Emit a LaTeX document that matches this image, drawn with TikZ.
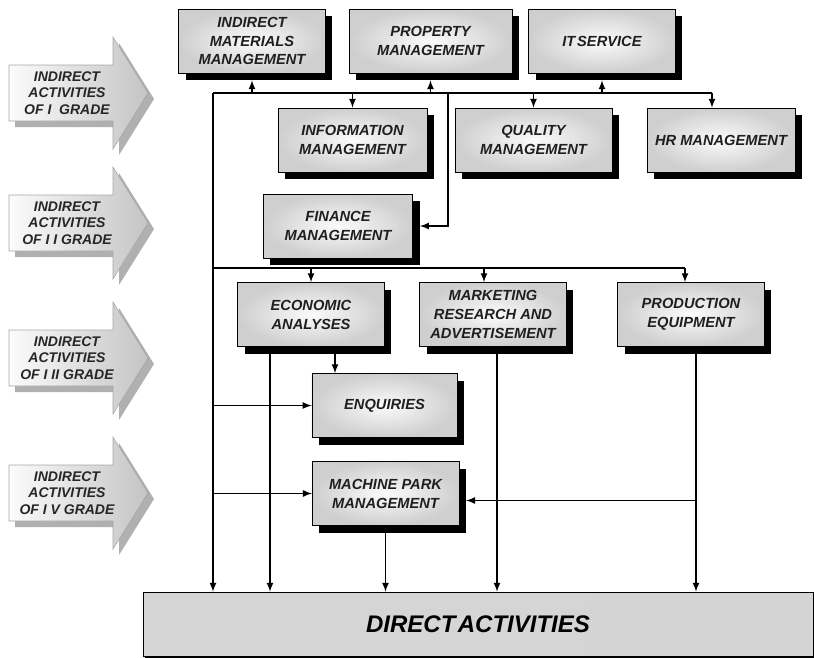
\documentclass[tikz,border=0pt]{standalone}
\usepackage{fontspec}
\setmainfont{Liberation Sans}
\usetikzlibrary{arrows,shadows,calc}
\tikzset{every picture/.style={/utils/exec={\bfseries\itshape}}}
\tikzset{box/.style={draw, thin, shading=radial, inner color=gray!3, outer color=gray!38,
    general shadow={fill=black, shadow xshift=5.25pt, shadow yshift=-5.25pt},
    minimum width=110pt, minimum height=48pt, align=center, inner sep=1pt,
    text=black!88, font=\fontsize{11}{14.2}\selectfont}}
\tikzset{link/.style={-latex, line width=1.3pt}}
\tikzset{bus/.style={line width=1.3pt}}
\tikzset{grade/.style={draw=gray!70, thin, shading=axis, left color=gray!3, right color=gray!46}}
\tikzset{gradetext/.style={align=center, font=\fontsize{10.5}{12.5}\selectfont, text=black!85}}

\begin{document}
\begin{tikzpicture}[x=0.75pt, y=-0.75pt]
    \useasboundingbox (0,0) rectangle (814,657);
    % grades
    \foreach \c/\g in {93/{OF I~~GRADE}, 223/{OF I I GRADE}, 358/{OF I II GRADE}, 493/{OF I V GRADE}} {
        \fill [gray!62] (15,\c-22) -- (119,\c-22) -- (119,\c-50) -- (154,\c+6) -- (119,\c+62) -- (119,\c+34) -- (15,\c+34) -- cycle;
        \draw [grade] (9,\c-28) -- (113,\c-28) -- (113,\c-56) -- (148,\c) -- (113,\c+56) -- (113,\c+28) -- (9,\c+28) -- cycle;
        \node [gradetext] at (67,\c) {INDIRECT\\ACTIVITIES\\\g};
    }
    % boxes
    \node [box] (imm) at (252,41) {INDIRECT\\MATERIALS\\MANAGEMENT};
    \node [box, minimum width=122pt] (prop) at (430.5,41) {PROPERTY\\MANAGEMENT};
    \node [box] (it) at (602,41) {IT\hspace{0.12em}SERVICE};
    \node [box, minimum width=112pt] (info) at (352.5,140) {INFORMATION\\MANAGEMENT};
    \node [box, minimum width=118pt] (qual) at (533.5,140) {QUALITY\\MANAGEMENT};
    \node [box, minimum width=111pt] (hr) at (721,140) {HR MANAGEMENT};
    \node [box, minimum width=112pt] (fin) at (338,226) {FINANCE\\MANAGEMENT};
    \node [box] (econ) at (311,314.5) {ECONOMIC\\ANALYSES};
    \node [box] (mkt) at (493,314.5) {MARKETING\\RESEARCH AND\\ADVERTISEMENT};
    \node [box] (prod) at (691,314.5) {PRODUCTION\\EQUIPMENT};
    \node [box, minimum width=109pt] (enq) at (384.5,405.5) {ENQUIRIES};
    \node [box] (mach) at (385.5,493.5) {MACHINE PARK\\MANAGEMENT};
    \node [draw, thin, shading=axis, left color=gray!32, middle color=gray!10, right color=gray!34,
        general shadow={fill=black, shadow xshift=1.5pt, shadow yshift=-1.5pt},
        minimum width=502.5pt, minimum height=48pt, font=\fontsize{18}{20}\selectfont]
        (direct) at (478,624) {DIRECT\hspace{0.1em}ACTIVITIES};
    % first bus
    \coordinate (b1l) at (213,93);
    \coordinate (b1r) at (712,93);
    \coordinate (fx) at (448,93);
    \draw [bus] (b1l) -- (b1r);
    \draw [link] (b1l) -- (b1l |- direct.north);
    \draw [link] (imm.south |- b1l) -- ([yshift=-5.25pt]imm.south);
    \draw [link] (prop.south |- b1l) -- ([yshift=-5.25pt]prop.south);
    \draw [link] (it.south |- b1l) -- ([yshift=-5.25pt]it.south);
    \draw [link] (info.north |- b1l) -- (info.north);
    \draw [link] (qual.north |- b1l) -- (qual.north);
    \draw [link] (b1r) -- (b1r |- hr.north);
    \draw [link] (fx) |- ([xshift=5.25pt]fin.east);
    % second bus
    \coordinate (b2l) at (213,268);
    \coordinate (b2r) at (685,268);
    \coordinate (mt) at ([xshift=-6.75pt]mkt.north);
    \draw [bus] (b2l) -- (b2r);
    \draw [link] (econ.north |- b2l) -- (econ.north);
    \draw [link] (mt |- b2l) -- (mt);
    \draw [link] (b2r) -- (b2r |- prod.north);
    % down to direct activities
    \coordinate (e1) at ([xshift=-30.75pt]econ.south);
    \coordinate (e2) at ([xshift=18pt]econ.south);
    \coordinate (m2) at ([xshift=3pt]mkt.south);
    \coordinate (p2) at ([xshift=3.75pt]prod.south);
    \coordinate (ms) at ([xshift=5.25pt,yshift=-5.25pt]mach.east);
    \draw [link] (e1) -- (e1 |- direct.north);
    \draw [link] (e2) -- (e2 |- enq.north);
    \draw [link] (b1l |- enq.west) -- (enq.west);
    \draw [link] (b1l |- mach.west) -- (mach.west);
    \draw [link] (mach.south) -- (mach.south |- direct.north);
    \draw [link] (m2) -- (m2 |- direct.north);
    \draw [link] (p2) -- (p2 |- direct.north);
    \draw [link] (p2 |- ms) -- (ms);
\end{tikzpicture}
\end{document}
